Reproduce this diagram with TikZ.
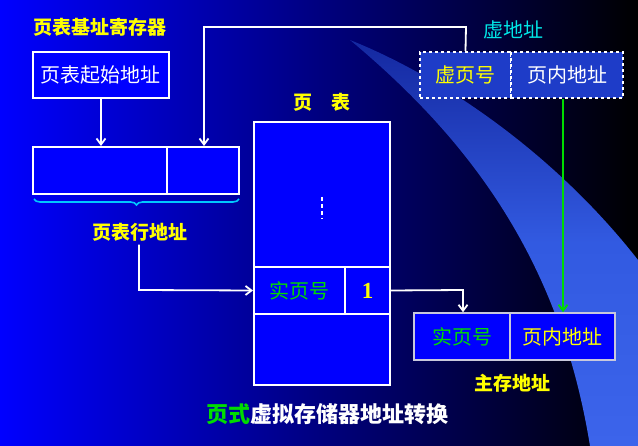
\documentclass[tikz,border=0pt]{standalone}
\usepackage{fontspec}
\setmainfont{Noto Sans CJK SC}
\usetikzlibrary{decorations.pathreplacing,arrows.meta}
\definecolor{ylw}{RGB}{255,255,0}
\definecolor{cyn}{RGB}{0,230,230}
\definecolor{grn}{RGB}{0,220,0}
\definecolor{swoosh}{RGB}{60,100,235}
\tikzset{
  lbl/.style={font=\fontsize{20}{21}\selectfont},
  ttl/.style={font=\bfseries\fontsize{19}{20}\selectfont},
  cell/.style={draw=white,line width=2pt,fill={rgb,255:red,0;green,0;blue,255}},
  conn/.style={draw=white,line width=1.8pt,-{Straight Barb[length=6pt,width=9pt]}},
}
\begin{document}
\begin{tikzpicture}[x=1pt,y=-1pt]
\useasboundingbox (0,0) rectangle (638,446);
\shade[left color={rgb,255:red,0;green,0;blue,255},right color=black] (0,0) rectangle (638,446);
\shade[top color={rgb,255:red,20;green,40;blue,160},bottom color=swoosh,middle color={rgb,255:red,50;green,90;blue,225}] (350,40) .. controls (470,140) and (560,260) .. (590,446) -- (638,446) -- (638,260) .. controls (560,160) and (450,80) .. (350,40) -- cycle;
% title
\node[ttl,text=ylw] (t1) at (100,27) {页表基址寄存器};
\node[cell,lbl,text=white,minimum width=136,minimum height=46,inner sep=0pt] (b1) at (101,75) {页表起始地址};
\node[cell,minimum width=134,minimum height=47] (r1) at (100,170.5) {};
\node[cell,minimum width=72,minimum height=47] (r2) at (203,170.5) {};
\draw[conn] (b1.south) -- (r1.north -| b1.south);
\draw[decorate,decoration={brace,mirror,amplitude=6pt},draw={rgb,255:red,0;green,200;blue,255},line width=1.6pt] (34,199) -- (239,199);
\node[ttl,text=ylw] (hl) at (140,232) {页表行地址};
% virtual address
\node[lbl,text=cyn] (va) at (513,30) {虚地址};
\node[draw=white,dashed,line width=2pt,fill={rgb,255:red,30;green,60;blue,200},minimum width=91,minimum height=46,lbl,text=ylw] (v1) at (465.5,75) {虚页号};
\node[draw=white,dashed,line width=2pt,fill={rgb,255:red,30;green,60;blue,200},minimum width=112,minimum height=46,lbl,text=white] (v2) at (567,75) {页内地址};
\coordinate (c1) at (466,27);
\coordinate (c2) at (204,27);
\draw[conn] (v1.north) -- (c1) -- (c2) -- (c2 |- r2.north);
% page table
\node[ttl,text=ylw] (pt) at (322,102) {页\quad 表};
\node[cell,minimum width=136,minimum height=145] (p1) at (322,194.5) {};
\node[cell,lbl,text=grn,minimum width=91,minimum height=47] (p2) at (299.5,290.5) {实页号};
\node[cell,minimum width=45,minimum height=47,text=ylw,font=\bfseries\fontsize{23}{23}\selectfont\fontspec{Liberation Serif}] (p3) at (367.5,290.5) {1};
\node[cell,minimum width=136,minimum height=71] (p4) at (322,349.5) {};
\draw[white,dashed,line width=1.8pt,dash pattern=on 4pt off 3pt] (322,197) -- (322,219);
\coordinate (c3) at (139,290);
\draw[conn] (hl.south -| c3) -- (c3) -- (p2.west);
% main address
\node[draw={rgb,255:red,200;green,200;blue,220},line width=1.5pt,fill={rgb,255:red,0;green,0;blue,255},minimum width=96,minimum height=47,lbl,text=grn] (m1) at (462,336.5) {实页号};
\node[draw={rgb,255:red,200;green,200;blue,220},line width=1.5pt,fill={rgb,255:red,0;green,0;blue,255},minimum width=105,minimum height=47,lbl,text=ylw] (m2) at (562.5,336.5) {页内地址};
\coordinate (c4) at (463,290);
\draw[conn] (p3.east) -- (c4) -- (m1.north -| c4);
\draw[conn,draw=grn] (v2.south -| 563,0) -- (m2.north -| 563,0);
\node[ttl,text=ylw] (ma) at (512,383) {主存地址};
\node[ttl,font=\bfseries\fontsize{22}{23}\selectfont,text=white] (bt) at (327,414) {\textcolor{grn}{页式}虚拟存储器地址转换};
\end{tikzpicture}
\end{document}
